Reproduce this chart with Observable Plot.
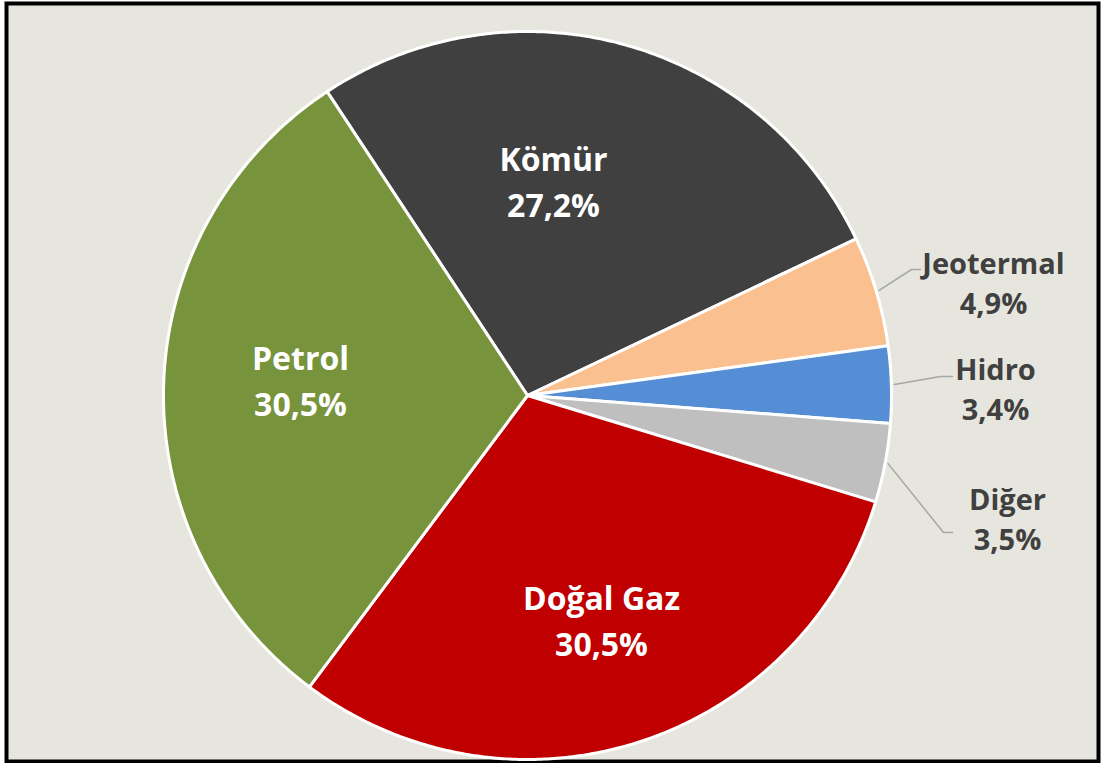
<!DOCTYPE html>
<html>
<head>
<meta charset="utf-8">
<script src="https://cdn.jsdelivr.net/npm/d3@7"></script>
<script src="https://cdn.jsdelivr.net/npm/@observablehq/plot@0.6"></script>
<style>
  html, body { margin: 0; padding: 0; background: #ffffff; }
  svg { display: block; }
</style>
</head>
<body>
<div id="chart"></div>
<script>
// Data
const categories = ["Kömür", "Jeotermal", "Hidro", "Diğer", "Doğal Gaz", "Petrol"];
const shares = [27.2, 4.9, 3.4, 3.5, 30.5, 30.5];
const colors = ["#404040", "#fac090", "#558ed5", "#bfbfbf", "#c00000", "#77933c"];
const labelColors = ["#ffffff", "#404040", "#404040", "#404040", "#ffffff", "#ffffff"];
const percentLabels = ["27,2%", "4,9%", "3,4%", "3,5%", "30,5%", "30,5%"];

// Layout
const W = 1101, H = 763;
const cx = 527, cy = 395, R = 364;
const startDeg = -33.4;

const pie = d3.pie().sort(null).value(d => d.v)
  .startAngle(startDeg * Math.PI / 180)
  .endAngle((startDeg + 360) * Math.PI / 180);
const arcs = pie(categories.map((c, i) => ({c, v: shares[i], i})));

const pt = (a, r) => ({x: cx + r * Math.sin(a), y: cy - r * Math.cos(a)});

const sliceMarks = arcs.map(a => {
  const pts = [pt(0, 0)];
  const n = Math.max(4, Math.ceil((a.endAngle - a.startAngle) / (Math.PI / 360)));
  for (let k = 0; k <= n; k++) {
    pts.push(pt(a.startAngle + (a.endAngle - a.startAngle) * k / n, R));
  }
  pts.push(pt(0, 0));
  return Plot.line(pts, {x: "x", y: "y", fill: colors[a.data.i], stroke: "#ffffff", strokeWidth: 3, strokeLinejoin: "round"});
});

// Label positions
const insidePos = {"Kömür": [553, 178.8], "Petrol": [300, 377.8], "Doğal Gaz": [601, 617.8]};
const outside = {
  "Jeotermal": {lx: 993, ly: 280.7, elbow: [911, 269], end: [920, 269]},
  "Hidro": {lx: 995, ly: 386.7, elbow: [940, 376], end: [952, 376]},
  "Diğer": {lx: 1007, ly: 516.7, elbow: [943, 532], end: [952, 532]}
};

const innerLabels = [], outerLabels = [];
arcs.forEach(a => {
  const c = a.data.c, i = a.data.i;
  const text = c + "\n" + percentLabels[i];
  if (insidePos[c]) innerLabels.push({x: insidePos[c][0], y: insidePos[c][1], text, color: labelColors[i]});
  else outerLabels.push({x: outside[c].lx, y: outside[c].ly, text, color: labelColors[i]});
});

const leaderLines = [];
arcs.forEach(a => {
  const c = a.data.c;
  if (!outside[c]) return;
  const mid = (a.startAngle + a.endAngle) / 2;
  const p = pt(mid, R + 3);
  leaderLines.push({c, x: p.x, y: p.y});
  leaderLines.push({c, x: outside[c].elbow[0], y: outside[c].elbow[1]});
  leaderLines.push({c, x: outside[c].end[0], y: outside[c].end[1]});
});

const chart = Plot.plot({
  width: W,
  height: H,
  margin: 0,
  x: {domain: [0, W], range: [0, W], axis: null},
  y: {domain: [0, H], range: [0, H], axis: null},
  style: {fontFamily: "'Open Sans', Lato, sans-serif", background: "#ffffff"},
  marks: [
    Plot.frame({fill: "#e7e6de", stroke: "#000000", strokeWidth: 4, insetLeft: 6, insetTop: 3, insetRight: 3, insetBottom: 2}),
    ...sliceMarks,
    Plot.line(leaderLines, {x: "x", y: "y", z: "c", stroke: "#a6a6a6", strokeWidth: 1.5}),
    Plot.text(innerLabels, {
      x: "x", y: "y", text: "text", fill: "color",
      fontSize: 32, fontWeight: "bold", lineHeight: 1.44, textAnchor: "middle"
    }),
    Plot.text(outerLabels, {
      x: "x", y: "y", text: "text", fill: "color",
      fontSize: 29, fontWeight: "bold", lineHeight: 1.38, textAnchor: "middle"
    })
  ]
});
document.getElementById("chart").appendChild(chart);
</script>
</body>
</html>
